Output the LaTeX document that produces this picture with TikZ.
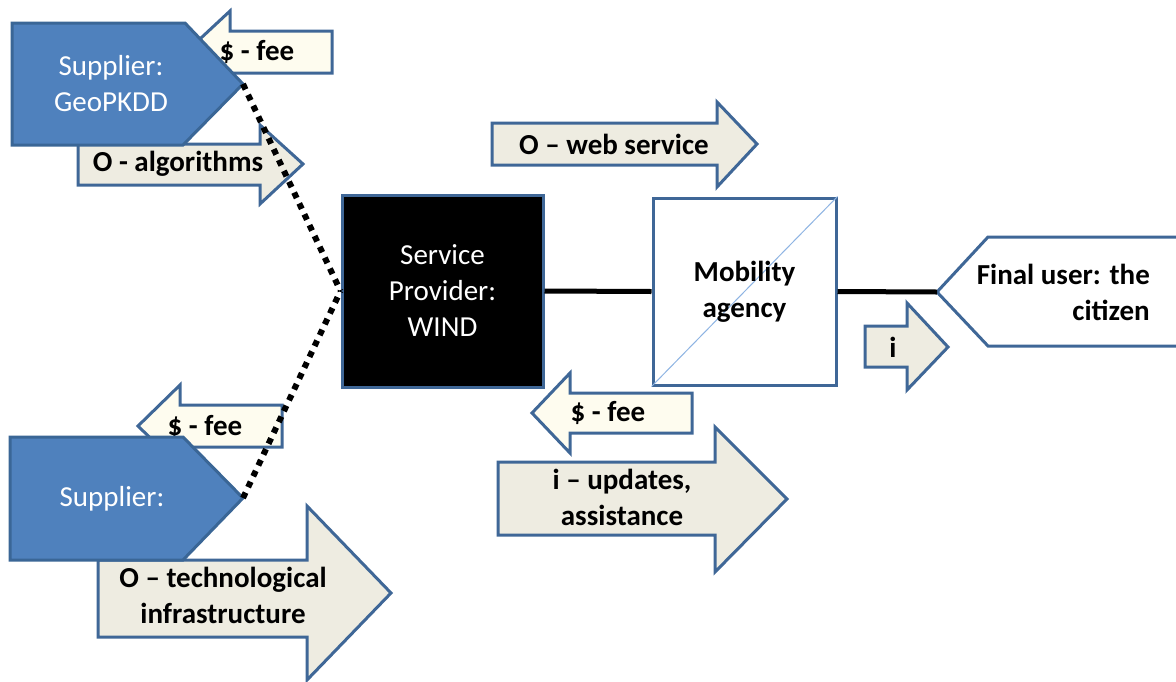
\documentclass[tikz,border=0pt]{standalone}
\usepackage{fontspec}
\setmainfont{Carlito}
\definecolor{bordercol}{HTML}{3F6797}
\definecolor{suppblue}{HTML}{4F81BD}
\definecolor{suppborder}{HTML}{3A6696}
\definecolor{tanfill}{HTML}{EEECE1}
\definecolor{creamfill}{HTML}{FEFCEF}
\definecolor{diagblue}{HTML}{8EB4E3}
\begin{document}
\begin{tikzpicture}[x=1pt,y=-1pt,
  every node/.style={font=\fontsize{29}{36}\selectfont, inner sep=0pt, align=center},
  lbl/.style={font=\fontsize{29}{36}\selectfont\bfseries, text=black},
  wlbl/.style={text=white},
  arrowshape/.style={draw=bordercol, line width=3pt, fill=tanfill, line join=miter},
  feeshape/.style={arrowshape, fill=creamfill},
  supp/.style={draw=suppborder, line width=3pt, fill=suppblue, line join=miter},
  box/.style={draw=bordercol, line width=3pt, minimum width=#1},
  link/.style={line width=5pt, black},
  dotlink/.style={line width=6pt, black, dash pattern=on 6pt off 6pt},
  diag/.style={line width=1pt, diagblue}
]
\clip (0,0) rectangle (1176,681);
\fill[white] (0,0) rectangle (1176,681);

% top supplier group
\draw[feeshape] (332,31) -- (230,31) -- (230,11) -- (186,52) -- (230,93) -- (230,73) -- (332,73) -- cycle;
\node[lbl] (fee1) at (257,52) {\$ - fee};
\draw[arrowshape] (78,144) -- (260,144) -- (260,125) -- (303,164) -- (260,204) -- (260,185) -- (78,185) -- cycle;
\node[lbl] (algo) at (178,164) {O - algorithms};
\draw[supp] (12,23) -- (185,23) -- (243,84) -- (183,145) -- (12,145) -- cycle;
\coordinate (geotip) at (243,84);
\node[wlbl] (geo) at (111,84) {Supplier:\\GeoPKDD};

% bottom supplier group
\draw[feeshape] (282,405) -- (180,405) -- (180,385) -- (138,426) -- (180,467) -- (180,447) -- (282,447) -- cycle;
\node[lbl] (fee2) at (205,427) {\$ - fee};
\draw[arrowshape] (98,560) -- (307,560) -- (307,506) -- (391,593) -- (307,680) -- (307,637) -- (98,637) -- cycle;
\node[lbl] (tech) at (223,595) {O -- technological\\infrastructure};
\draw[supp] (10,437) -- (183,437) -- (243,498) -- (183,560) -- (10,560) -- cycle;
\coordinate (supptip) at (243,498);
\node[wlbl] (supp2) at (112,499) {Supplier:};

% service provider
\node[box=201pt, minimum height=192pt, fill=black, text=white] (wind) at (442.5,291) {Service\\Provider:\\WIND};

% mobility agency
\node[box=183pt, minimum height=187pt, fill=white] (mob) at (744.5,291.5) {};
\draw[diag] (mob.south west) -- (mob.north east);
\node[lbl] (mobtxt) at (mob.center) {Mobility\\agency};

% web service arrow
\draw[arrowshape] (492,123) -- (717,123) -- (717,102) -- (757,144) -- (717,187) -- (717,165) -- (492,165) -- cycle;
\node[lbl] (web) at (614,144) {O -- web service};

% middle fee and updates
\draw[feeshape] (692,393) -- (570,393) -- (570,373) -- (532,413) -- (570,453) -- (570,433) -- (692,433) -- cycle;
\node[lbl] (fee3) at (608,413) {\$ - fee};
\draw[arrowshape] (498,462) -- (715,462) -- (715,427) -- (787,499) -- (715,572) -- (715,535) -- (498,535) -- cycle;
\node[lbl] (upd) at (622,497.5) {i -- updates,\\assistance};

% final user
\draw[arrowshape, fill=white] (1190,237) -- (988,237) -- (937,292) -- (988,346) -- (1190,346);
\coordinate (usertip) at (937,292);
\node[lbl, anchor=east, align=right] (user) at (1150,292.5) {Final user: the\\citizen};

% i arrow
\draw[arrowshape] (865,326) -- (907,326) -- (907,303) -- (948,347) -- (907,390) -- (907,367) -- (865,367) -- cycle;
\node[lbl] (info) at (893,347) {i};

% connectors
\draw[link] (wind.east) -- (mob.west);
\draw[link] (mob.east) -- (usertip);
\draw[dotlink] (geotip) -- (wind.west);
\draw[dotlink] (supptip) -- (wind.west);
\end{tikzpicture}
\end{document}
